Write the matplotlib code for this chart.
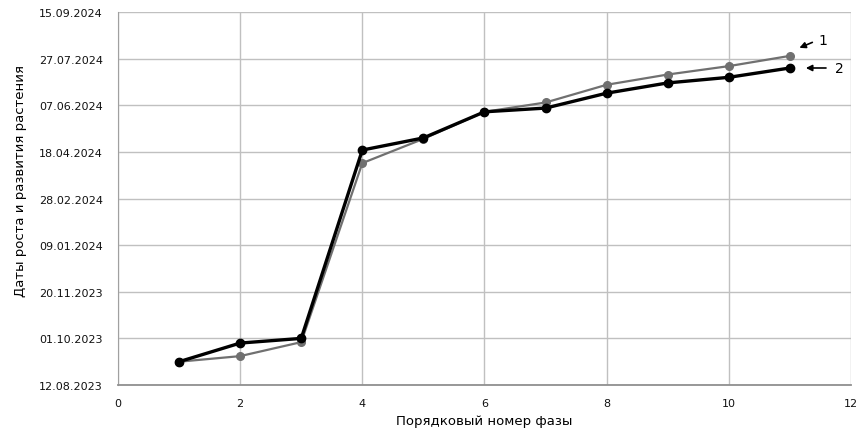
import pandas as pd
import matplotlib
matplotlib.use("Agg")
import matplotlib.pyplot as plt
import matplotlib.dates as mdates
import matplotlib.transforms as mtransforms

# phase numbers
phases = [1, 2, 3, 4, 5, 6, 7, 8, 9, 10, 11]

# series 1 (grey) and series 2 (black) dates
dates_1 = ["06.09.2023", "12.09.2023", "27.09.2023", "06.04.2024", "02.05.2024",
           "31.05.2024", "10.06.2024", "29.06.2024", "10.07.2024", "19.07.2024",
           "30.07.2024"]
dates_2 = ["06.09.2023", "26.09.2023", "01.10.2023", "20.04.2024", "03.05.2024",
           "31.05.2024", "04.06.2024", "20.06.2024", "01.07.2024", "07.07.2024",
           "17.07.2024"]

y1 = mdates.date2num(pd.to_datetime(dates_1, format="%d.%m.%Y"))
y2 = mdates.date2num(pd.to_datetime(dates_2, format="%d.%m.%Y"))

y_start = mdates.date2num(pd.Timestamp("2023-08-12"))
y_end = mdates.date2num(pd.Timestamp("2024-09-15"))

fig = plt.figure(figsize=(8.6, 4.35), dpi=100)
ax = fig.add_axes([0.1372, 0.1126, 0.8523, 0.8574])

ax.plot(phases, y1, color="#707070", lw=1.6, marker="o", ms=5.5, zorder=3)
ax.plot(phases, y2, color="black", lw=2.4, marker="o", ms=6, zorder=4)

ax.set_xlim(0, 12)
ax.set_xticks(range(0, 13, 2))
ax.set_ylim(y_start, y_end)
ax.set_yticks([y_start + 50 * i for i in range(9)])
ax.yaxis.set_major_formatter(mdates.DateFormatter("%d.%m.%Y"))

ax.grid(True, color="#c0c0c0", lw=1.0)
ax.set_axisbelow(True)
for side in ["top", "right"]:
    ax.spines[side].set_visible(False)
ax.spines["left"].set_color("#a0a0a0")
ax.spines["bottom"].set_color("#909090")
ax.spines["bottom"].set_linewidth(1.3)
ax.tick_params(length=0, labelsize=8, colors="#111111")
ax.tick_params(axis="y", pad=11)
ax.tick_params(axis="x", pad=9)

ax.set_xlabel("Порядковый номер фазы", fontsize=9.5, labelpad=5)
ax.set_ylabel("Даты роста и развития растения", fontsize=9.5)
ax.yaxis.set_label_coords(-0.124, 0.55)

# curve labels with arrows
def mark(xv, yv, label, head, tail, txt):
    t_head = mtransforms.offset_copy(ax.transData, fig, x=head[0], y=head[1], units="points")
    t_tail = mtransforms.offset_copy(ax.transData, fig, x=tail[0], y=tail[1], units="points")
    t_txt = mtransforms.offset_copy(ax.transData, fig, x=txt[0], y=txt[1], units="points")
    ax.annotate("", xy=(xv, yv), xycoords=t_head, xytext=(xv, yv), textcoords=t_tail,
                arrowprops=dict(arrowstyle="-|>", color="black", lw=1.2, mutation_scale=9),
                annotation_clip=False)
    ax.text(xv, yv, label, transform=t_txt, ha="center", va="center", fontsize=10,
            clip_on=False)

mark(phases[-1], y1[-1], "1", (5, 5), (18, 10.5), (24, 11.5))
mark(phases[-1], y2[-1], "2", (9.5, 0), (28, 0), (35.5, 0))

fig.savefig("out.png", dpi=100)
